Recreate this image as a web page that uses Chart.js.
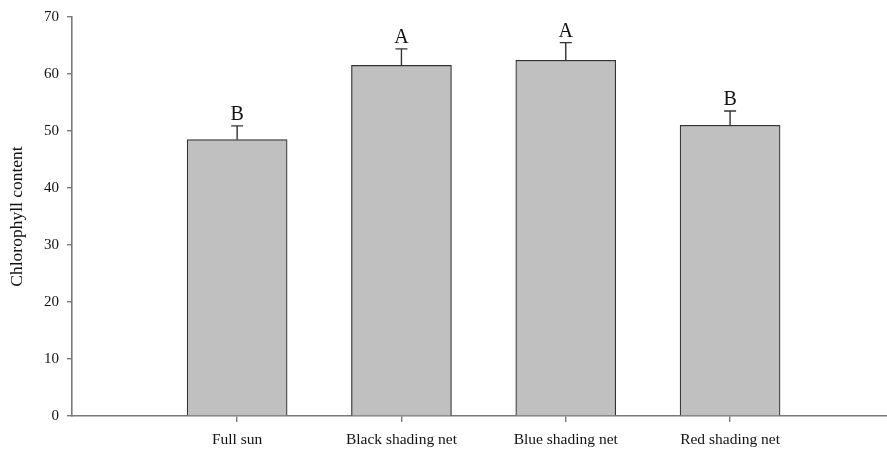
<!DOCTYPE html>
<html>
<head>
<meta charset="utf-8">
<script src="https://cdn.jsdelivr.net/npm/chart.js@4/dist/chart.umd.min.js"></script>
<style>
  html, body { margin: 0; padding: 0; background: #fff; }
  #wrap { width: 887px; height: 451px; }
</style>
</head>
<body>
<div id="wrap"><canvas id="c" width="887" height="451"></canvas></div>
<script>
// Treatments, mean chlorophyll content, standard error and significance letters
const categories = ['Full sun', 'Black shading net', 'Blue shading net', 'Red shading net'];
const means = [48.5, 61.5, 62.4, 51.0];
const errors = [2.4, 2.9, 3.1, 2.5];
const letters = ['B', 'A', 'A', 'B'];
const yTicks = [0, 10, 20, 30, 40, 50, 60, 70];

const SERIF = '"Liberation Serif", "Times New Roman", serif';
const AXIS = '#7a7a7a';

// Upper error bars with caps, then the letters above them
const errorBars = {
  id: 'errorBars',
  afterDatasetsDraw(chart) {
    const ctx = chart.ctx;
    const x = chart.scales.x, y = chart.scales.y;
    ctx.save();
    ctx.strokeStyle = '#333';
    ctx.lineWidth = 1.4;
    ctx.fillStyle = '#111';
    ctx.font = '20px ' + SERIF;
    ctx.textAlign = 'center';
    ctx.textBaseline = 'alphabetic';
    means.forEach((m, i) => {
      const px = x.getPixelForValue(i);
      const pTop = y.getPixelForValue(m);
      const pCap = y.getPixelForValue(m + errors[i]);
      ctx.beginPath();
      ctx.moveTo(px, pTop);
      ctx.lineTo(px, pCap);
      ctx.moveTo(px - 6, pCap);
      ctx.lineTo(px + 6, pCap);
      ctx.stroke();
      ctx.fillText(letters[i], px, pCap - 6);
    });
    ctx.restore();
  }
};

new Chart(document.getElementById('c'), {
  type: 'bar',
  data: {
    datasets: [{
      data: means.map((v, i) => ({ x: i, y: v })),
      backgroundColor: '#c0c0c0',
      borderColor: '#333',
      borderWidth: 1.2,
      barThickness: 100
    }]
  },
  options: {
    responsive: false,
    animation: false,
    layout: { padding: { left: 0, right: 0, top: 16, bottom: 0 } },
    plugins: { legend: { display: false }, tooltip: { enabled: false } },
    scales: {
      x: {
        type: 'linear',
        offset: false,
        min: -1.005,
        max: 3.955,
        afterBuildTicks(scale) { scale.ticks = categories.map((_, i) => ({ value: i })); },
        afterFit(scale) { scale.height = 35; },
        grid: { display: true, offset: false, drawOnChartArea: false, drawTicks: true, tickLength: 6, color: AXIS, lineWidth: 1.4 },
        border: { display: true, color: AXIS, width: 1.6 },
        ticks: {
          autoSkip: false,
          maxRotation: 0,
          padding: 9,
          color: '#111',
          font: { family: SERIF, size: 15.5 },
          callback: (v) => categories[v]
        }
      },
      y: {
        min: 0,
        max: 70,
        afterBuildTicks(scale) { scale.ticks = yTicks.map(v => ({ value: v })); },
        afterFit(scale) { scale.width = 72; },
        grid: { display: true, drawOnChartArea: false, drawTicks: true, tickLength: 5, color: AXIS, lineWidth: 1.4 },
        border: { display: true, color: AXIS, width: 1.6 },
        ticks: {
          padding: 8,
          color: '#111',
          font: { family: SERIF, size: 15 }
        },
        title: {
          display: true,
          text: 'Chlorophyll content',
          color: '#111',
          font: { family: SERIF, size: 17.5 },
          padding: { top: 7, bottom: 0 }
        }
      }
    }
  },
  plugins: [errorBars]
});
</script>
</body>
</html>
